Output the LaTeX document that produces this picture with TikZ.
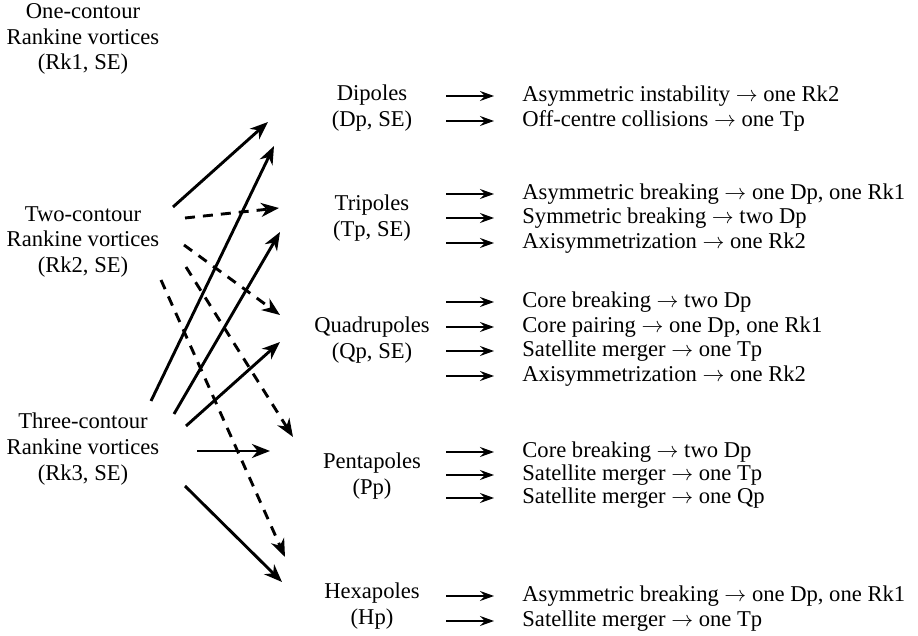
\documentclass[tikz,border=0pt]{standalone}
\usepackage{fontspec}
\setmainfont{Liberation Serif}
\usetikzlibrary{arrows.meta}
\usetikzlibrary{positioning,calc}

\begin{document}
\begin{tikzpicture}[
    x=0.5pt, y=-0.5pt,
    every node/.style = {inner sep=0pt,font=\fontsize{11.3}{12.8}\selectfont},
    family/.style = {align=center},
    outcome/.style = {anchor=west,text height=8pt,text depth=2.5pt},
    fanline/.style = {line width=1.45pt,-{Stealth[length=9pt,width=7pt,inset=2.8pt]}},
    fandash/.style = {fanline,dash pattern=on 5pt off 4pt},
    outarrow/.style = {line width=.7pt,-{Stealth[length=7pt,width=5pt,inset=2.5pt]},shorten >=14pt},
    ]
    \useasboundingbox (0,0) rectangle (918,636);
    \node[family] (rk1) at (83,39) {One-contour\\Rankine vortices\\(Rk1, SE)};
    \node[family] (rk2) at (83,242) {Two-contour\\Rankine vortices\\(Rk2, SE)};
    \node[family] (rk3) at (83,449) {Three-contour\\Rankine vortices\\(Rk3, SE)};
    \node[family] (dp) at (372,108) {Dipoles\\(Dp, SE)};
    \node[family] (tp) at (372,218) {Tripoles\\(Tp, SE)};
    \node[family] (qp) at (372,340) {Quadrupoles\\(Qp, SE)};
    \node[family] (pp) at (372,476) {Pentapoles\\(Pp)};
    \node[family] (hp) at (372,606) {Hexapoles\\(Hp)};
    % fan ends
    \coordinate (rk2-out1) at (173,207);
    \coordinate (rk2-out2) at (185,218);
    \coordinate (rk2-out3) at (184,245);
    \coordinate (rk2-out4) at (186,267);
    \coordinate (rk2-out5) at (161,280);
    \coordinate (rk3-out1) at (151,401);
    \coordinate (rk3-out2) at (174,414);
    \coordinate (rk3-out3) at (186,426);
    \coordinate (rk3-out4) at (197,451);
    \coordinate (rk3-out5) at (185,486);
    \coordinate (dp-in1) at (268,122);
    \coordinate (dp-in2) at (274,146);
    \coordinate (tp-in1) at (279,208);
    \coordinate (tp-in2) at (280,232);
    \coordinate (qp-in1) at (280,315);
    \coordinate (qp-in2) at (280,342);
    \coordinate (pp-in1) at (293,437);
    \coordinate (pp-in2) at (270,451);
    \coordinate (hp-in1) at (285,557);
    \coordinate (hp-in2) at (282,582);
    \draw[fanline] (rk2-out1) -- (dp-in1);
    \draw[fanline] (rk3-out1) -- (dp-in2);
    \draw[fanline] (rk3-out2) -- (tp-in2);
    \draw[fanline] (rk3-out3) -- (qp-in2);
    \draw[fanline] (rk3-out4) -- (pp-in2);
    \draw[fanline] (rk3-out5) -- (hp-in2);
    \draw[fandash] (rk2-out2) -- (tp-in1);
    \draw[fandash] (rk2-out3) -- (qp-in1);
    \draw[fandash] (rk2-out4) -- (pp-in1);
    \draw[fandash] (rk2-out5) -- (hp-in1);
    % break-up routes
    \coordinate (arrow-col) at (446,0);
    \node[outcome] (dp-1) at (522,96) {Asymmetric instability $\rightarrow$ one Rk2};
    \draw[outarrow] (arrow-col |- dp-1) -- (dp-1);
    \node[outcome] (dp-2) at (522,121) {Off-centre collisions $\rightarrow$ one Tp};
    \draw[outarrow] (arrow-col |- dp-2) -- (dp-2);
    \node[outcome] (tp-1) at (522,194) {Asymmetric breaking $\rightarrow$ one Dp, one Rk1};
    \draw[outarrow] (arrow-col |- tp-1) -- (tp-1);
    \node[outcome] (tp-2) at (522,218) {Symmetric breaking $\rightarrow$ two Dp};
    \draw[outarrow] (arrow-col |- tp-2) -- (tp-2);
    \node[outcome] (tp-3) at (522,243) {Axisymmetrization $\rightarrow$ one Rk2};
    \draw[outarrow] (arrow-col |- tp-3) -- (tp-3);
    \node[outcome] (qp-1) at (522,302) {Core breaking $\rightarrow$ two Dp};
    \draw[outarrow] (arrow-col |- qp-1) -- (qp-1);
    \node[outcome] (qp-2) at (522,327) {Core pairing $\rightarrow$ one Dp, one Rk1};
    \draw[outarrow] (arrow-col |- qp-2) -- (qp-2);
    \node[outcome] (qp-3) at (522,351) {Satellite merger $\rightarrow$ one Tp};
    \draw[outarrow] (arrow-col |- qp-3) -- (qp-3);
    \node[outcome] (qp-4) at (522,376) {Axisymmetrization $\rightarrow$ one Rk2};
    \draw[outarrow] (arrow-col |- qp-4) -- (qp-4);
    \node[outcome] (pp-1) at (522,452) {Core breaking $\rightarrow$ two Dp};
    \draw[outarrow] (arrow-col |- pp-1) -- (pp-1);
    \node[outcome] (pp-2) at (522,475) {Satellite merger $\rightarrow$ one Tp};
    \draw[outarrow] (arrow-col |- pp-2) -- (pp-2);
    \node[outcome] (pp-3) at (522,498) {Satellite merger $\rightarrow$ one Qp};
    \draw[outarrow] (arrow-col |- pp-3) -- (pp-3);
    \node[outcome] (hp-1) at (522,596) {Asymmetric breaking $\rightarrow$ one Dp, one Rk1};
    \draw[outarrow] (arrow-col |- hp-1) -- (hp-1);
    \node[outcome] (hp-2) at (522,621) {Satellite merger $\rightarrow$ one Tp};
    \draw[outarrow] (arrow-col |- hp-2) -- (hp-2);
\end{tikzpicture}
\end{document}
